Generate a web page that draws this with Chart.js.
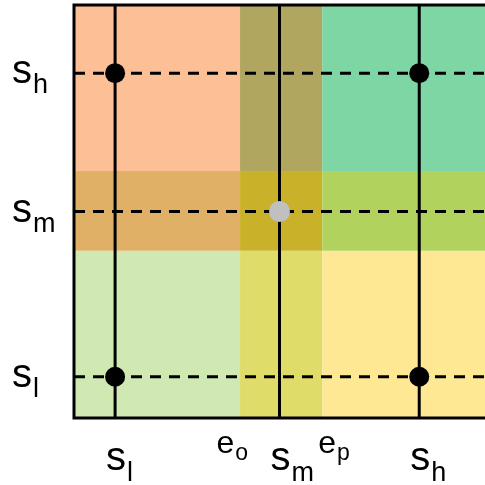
<!DOCTYPE html>
<html>
<head>
<meta charset="utf-8">
<script src="https://cdn.jsdelivr.net/npm/chart.js@4/dist/chart.umd.min.js"></script>
<style>
  html, body { margin: 0; padding: 0; background: #fff; }
  canvas { display: block; }
</style>
</head>
<body>
<canvas id="myChart" width="485" height="485"></canvas>
<script>
// strategy levels on both axes
const levelNames = ["l", "m", "h"];
const xLevels = [0.1, 0.5, 0.84];
const yLevels = [0.1, 0.5, 0.835];

// band edges (e_o / e_p) splitting the square into 3x3 regions
const xEdges = [0, 0.404, 0.604, 1];
const yEdges = [0, 0.405, 0.598, 1];
// region colours, rows from bottom to top, columns left to right
const regionColors = [
   ["#D0E9B2", "#E0DC6A", "#FEE894"],
   ["#E0B066", "#C9B22A", "#B2D25E"],
   ["#FDBF96", "#B0A660", "#7DD6A4"],
];

// equilibrium points
const blackPoints = [
   { x: 0.1, y: 0.835 },
   { x: 0.84, y: 0.835 },
   { x: 0.1, y: 0.1 },
   { x: 0.84, y: 0.1 },
];
const grayPoints = [{ x: 0.5, y: 0.5 }];

// x tick labels: main letter + subscript
const xTickValues = [0.1, 0.404, 0.5, 0.604, 0.84];
const xTickMain = ["s", "e", "s", "e", "s"];
const xTickSub = ["l", "o", "m", "p", "h"];

const FONT = "'Liberation Sans', Arial, sans-serif";

const regionsPlugin = {
   id: "regions",
   beforeDatasetsDraw(chart) {
      const { ctx, scales: { x, y } } = chart;
      ctx.save();
      for (let r = 0; r < 3; r++) {
         for (let c = 0; c < 3; c++) {
            const x0 = x.getPixelForValue(xEdges[c]);
            const x1 = x.getPixelForValue(xEdges[c + 1]);
            const y0 = y.getPixelForValue(yEdges[r + 1]);
            const y1 = y.getPixelForValue(yEdges[r]);
            ctx.fillStyle = regionColors[r][c];
            ctx.fillRect(x0, y0, x1 - x0, y1 - y0);
         }
      }
      ctx.restore();
   },
   afterDraw(chart) {
      const { ctx, chartArea: a, scales: { x, y } } = chart;
      ctx.save();
      // frame: left, top, bottom
      ctx.strokeStyle = "#000";
      ctx.lineWidth = 3;
      ctx.beginPath();
      ctx.moveTo(a.right, a.top);
      ctx.lineTo(a.left, a.top);
      ctx.lineTo(a.left, a.bottom);
      ctx.lineTo(a.right, a.bottom);
      ctx.stroke();

      ctx.fillStyle = "#000";
      ctx.textBaseline = "alphabetic";
      ctx.textAlign = "left";

      // y labels
      yLevels.forEach((v, i) => {
         const py = y.getPixelForValue(v);
         ctx.font = "40px " + FONT;
         ctx.fillText("s", 12, py + 10);
         const w = ctx.measureText("s").width;
         ctx.font = "27px " + FONT;
         ctx.fillText(levelNames[i], 12 + w + 1, py + 20);
      });

      // x labels
      xTickValues.forEach((v, i) => {
         const px = x.getPixelForValue(v);
         if (xTickMain[i] === "s") {
            ctx.font = "40px " + FONT;
            const w = ctx.measureText("s").width;
            ctx.fillText("s", px - 9, 470);
            ctx.font = "27px " + FONT;
            ctx.fillText(xTickSub[i], px - 9 + w + 1, 481);
         } else {
            ctx.font = "32px " + FONT;
            const w = ctx.measureText("e").width;
            ctx.font = "23px " + FONT;
            const ws = ctx.measureText(xTickSub[i]).width;
            const left = i === 1 ? px + 7 - w - ws : px - 4;
            ctx.font = "32px " + FONT;
            ctx.fillText("e", left, 453);
            ctx.font = "23px " + FONT;
            ctx.fillText(xTickSub[i], left + w + 1, 460);
         }
      });
      ctx.restore();
   },
};

const datasets = [];
datasets.push({
   type: "scatter",
   data: blackPoints,
   pointRadius: 10,
   pointBackgroundColor: "#000",
   pointBorderWidth: 0,
   order: 0,
});
datasets.push({
   type: "scatter",
   data: grayPoints,
   pointRadius: 10.5,
   pointBackgroundColor: "#C0C0C0",
   pointBorderWidth: 0,
   order: 0,
});
xLevels.forEach((v) => {
   datasets.push({
      type: "line",
      data: [{ x: v, y: 0 }, { x: v, y: 1 }],
      borderColor: "#000",
      borderWidth: 3,
      pointRadius: 0,
      fill: false,
      order: 2,
   });
});
yLevels.forEach((v) => {
   datasets.push({
      type: "line",
      data: [{ x: 0, y: v }, { x: 1, y: v }],
      borderColor: "#000",
      borderWidth: 3,
      borderDash: [11, 8],
      pointRadius: 0,
      fill: false,
      order: 1,
   });
});

new Chart(document.getElementById("myChart"), {
   data: { datasets },
   options: {
      responsive: false,
      animation: false,
      layout: { autoPadding: false, padding: { left: 74, top: 5, right: 0, bottom: 67 } },
      scales: {
         x: { type: "linear", min: 0, max: 1, display: false },
         y: { type: "linear", min: 0, max: 1, display: false },
      },
      plugins: {
         legend: { display: false },
         tooltip: { enabled: false },
      },
   },
   plugins: [regionsPlugin],
});
</script>
</body>
</html>
